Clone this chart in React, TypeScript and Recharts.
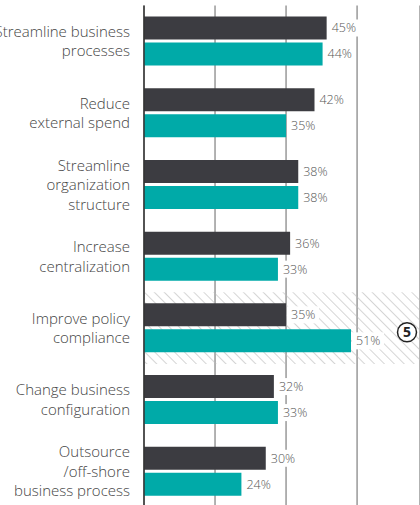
import { BarChart, Bar, XAxis, YAxis, CartesianGrid, ReferenceArea, LabelList } from "recharts";

const categories = [
  "Streamline business\nprocesses",
  "Reduce\nexternal spend",
  "Streamline\norganization\nstructure",
  "Increase\ncentralization",
  "Improve policy\ncompliance",
  "Change business\nconfiguration",
  "Outsource\n/off-shore\nbusiness process",
];
const previousValues = [45, 42, 38, 36, 35, 32, 30];
const currentValues = [44, 35, 38, 33, 51, 33, 24];
const gridTicks = [0, 17.5, 35, 52.5];
const highlighted = "Improve policy\ncompliance";
const badge = "5";

const data = categories.map((name, i) => ({
  name,
  previous: previousValues[i],
  current: currentValues[i],
}));

const FONT = "'Open Sans', 'Noto Sans', sans-serif";

const CategoryTick = (props: any) => {
  const { x, y, payload } = props;
  const lines = String(payload.value).split("\n");
  const lh = 19.5;
  const start = y - ((lines.length - 1) * lh) / 2;
  return (
    <text x={x} y={start} textAnchor="end" fill="#444" fontSize={15} fontWeight={300} fontFamily={FONT}>
      {lines.map((l, i) => (
        <tspan key={i} x={x} y={start + i * lh} dy="0.35em">
          {l}
        </tspan>
      ))}
    </text>
  );
};

const ValueLabel = (props: any) => {
  const { x, y, width, height, value } = props;
  const lx = x + width + 5;
  const cy = y + height / 2;
  return (
    <g>
      <rect x={x + width + 1} y={cy - 8.5} width={32} height={17} fill="#fff" />
      <text x={lx} y={cy} dy="0.35em" fill="#555" fontSize={12.5} fontWeight={300} fontFamily={FONT}>
        {value}%
      </text>
    </g>
  );
};

const Badge = (props: any) => {
  const { viewBox } = props;
  const cx = viewBox.x + viewBox.width - 13;
  const cy = viewBox.y + viewBox.height / 2 + 4;
  return (
    <g>
      <circle cx={cx} cy={cy} r={9.5} fill="#fff" stroke="#222" strokeWidth={1.5} />
      <text x={cx} y={cy} dy="0.36em" textAnchor="middle" fontSize={14} fontWeight={700} fill="#222" fontFamily={FONT}>
        {badge}
      </text>
    </g>
  );
};

export default function App() {
  return (
    <div style={{ position: "absolute", left: 0, top: 0, width: 420, height: 505, overflow: "hidden", background: "#fff" }}>
      <BarChart
        width={420}
        height={510}
        data={data}
        layout="vertical"
        margin={{ top: 5.5, right: 0, bottom: 2.5, left: 0 }}
        barSize={23}
        barGap={3}
      >
        <defs>
          <pattern id="hatch" width="7" height="7" patternUnits="userSpaceOnUse" patternTransform="rotate(-45)">
            <line x1="0" y1="0" x2="0" y2="7" stroke="#b8b8b8" strokeWidth={1.2} />
          </pattern>
        </defs>
        <ReferenceArea y1={highlighted} y2={highlighted} fill="url(#hatch)" fillOpacity={1} stroke="none" label={<Badge />} />
        <CartesianGrid horizontal={false} stroke="#999" strokeWidth={1.5} />
        <XAxis type="number" domain={[0, 68]} ticks={gridTicks} hide />
        <YAxis
          type="category"
          dataKey="name"
          width={144}
          tickSize={0}
          tickMargin={14}
          tickLine={false}
          axisLine={{ stroke: "#333", strokeWidth: 1.5 }}
          tick={<CategoryTick />}
          interval={0}
        />
        <Bar dataKey="previous" fill="#3c3c41" isAnimationActive={false}>
          <LabelList dataKey="previous" content={<ValueLabel />} />
        </Bar>
        <Bar dataKey="current" fill="#00aaa8" isAnimationActive={false}>
          <LabelList dataKey="current" content={<ValueLabel />} />
        </Bar>
      </BarChart>
    </div>
  );
}
